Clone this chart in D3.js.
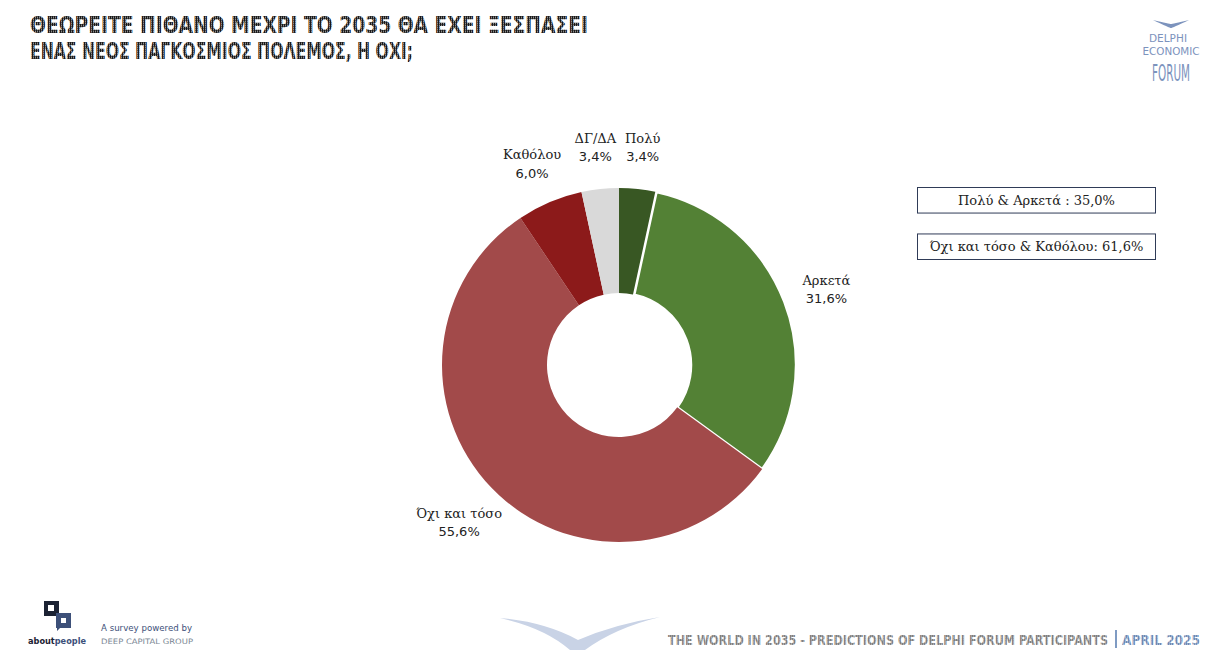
<!DOCTYPE html>
<html>
<head>
<meta charset="utf-8">
<script src="https://cdn.jsdelivr.net/npm/d3@7"></script>
<style>
  html, body { margin: 0; padding: 0; background: #fff; }
  svg { display: block; }
</style>
</head>
<body>
<svg id="chart" width="1222" height="652"></svg>
<script>
// ---- data ----
const categories = ["Πολύ", "Αρκετά", "Όχι και τόσο", "Καθόλου", "ΔΓ/ΔΑ"];
const values = [3.4, 31.6, 55.6, 6.0, 3.4];
const colors = ["#385723", "#538135", "#A24A4A", "#8C1A1A", "#D9D9D9"];
const titleLines = ["ΘΕΩΡΕΙΤΕ ΠΙΘΑΝΟ ΜΕΧΡΙ ΤΟ 2035 ΘΑ ΕΧΕΙ ΞΕΣΠΑΣΕΙ", "ΕΝΑΣ ΝΕΟΣ ΠΑΓΚΟΣΜΙΟΣ ΠΟΛΕΜΟΣ, Η ΟΧΙ;"];
const summaryGroups = [
  { label: "Πολύ & Αρκετά : ", members: ["Πολύ", "Αρκετά"] },
  { label: "Όχι και τόσο & Καθόλου: ", members: ["Όχι και τόσο", "Καθόλου"] }
];
const footerText = "THE WORLD IN 2035 - PREDICTIONS OF DELPHI FORUM PARTICIPANTS";
const footerDate = "APRIL 2025";

const fmt = v => d3.format(".1f")(v).replace(".", ",") + "%";

const svg = d3.select("#chart");
const defs = svg.append("defs");

// dotted "pixel" fill for title/footer
function stripe(id, bg, fg) {
  const p = defs.append("pattern").attr("id", id).attr("width", 2).attr("height", 2)
    .attr("patternUnits", "userSpaceOnUse");
  p.append("rect").attr("width", 2).attr("height", 2).attr("fill", bg);
  p.append("rect").attr("width", 1).attr("height", 2).attr("fill", fg);
  p.append("rect").attr("width", 2).attr("height", 1).attr("fill", fg).attr("opacity", 0.5);
}
stripe("dots", "#8d8d8d", "#1a1a1a");
stripe("dotsGray", "#b8b8b8", "#7a7a7a");
stripe("dotsBlue", "#a8bad5", "#6d89b3");

// ---- title ----
const titleG = svg.append("g");
const titleLen = [558, 383];
titleLines.forEach((t, i) => {
  titleG.append("text")
    .attr("x", 30).attr("y", 33 + i * 26)
    .attr("font-family", "DejaVu Sans Condensed, DejaVu Sans")
    .attr("font-weight", "bold")
    .attr("font-size", 23)
    .attr("textLength", titleLen[i])
    .attr("lengthAdjust", "spacingAndGlyphs")
    .attr("fill", "url(#dots)")
    .text(t);
});

// ---- donut ----
const cx = 619, cy = 365, outerR = 177, innerR = 72;
const data = categories.map((c, i) => ({ cat: c, value: values[i], color: colors[i] }));
const pie = d3.pie().value(d => d.value).sort(null);
const arcs = pie(data);
const arc = d3.arc().innerRadius(innerR).outerRadius(outerR);
const labelArc = d3.arc().innerRadius(222).outerRadius(222);

const g = svg.append("g").attr("transform", `translate(${cx},${cy})`);
g.selectAll("path.slice").data(arcs).enter().append("path")
  .attr("class", "slice")
  .attr("d", arc)
  .attr("fill", d => d.data.color)
  .attr("stroke", d => d.data.cat === "Αρκετά" ? "#fff" : "none")
  .attr("stroke-width", 2.5);

const lab = g.selectAll("text.lbl").data(arcs).enter().append("text")
  .attr("class", "lbl")
  .attr("transform", d => {
    const [x, y] = labelArc.centroid(d);
    return `translate(${x},${y})`;
  })
  .attr("text-anchor", "middle")
  .attr("font-family", "DejaVu Serif")
  .attr("font-size", 13)
  .attr("fill", "#222");
lab.append("tspan").attr("x", 0).attr("dy", "-0.1em").text(d => d.data.cat);
lab.append("tspan").attr("x", 0).attr("dy", "1.4em").attr("font-family", "DejaVu Sans").text(d => fmt(d.data.value));

// ---- summary boxes ----
const boxG = svg.append("g");
const boxY = d3.scaleBand().domain(summaryGroups.map((d, i) => i)).range([187, 259]).paddingInner(0.45);
summaryGroups.forEach((sg, i) => {
  const total = d3.sum(sg.members, m => values[categories.indexOf(m)]);
  const y = boxY(i), h = boxY.bandwidth();
  boxG.append("rect").attr("x", 917.5).attr("y", y + 0.5).attr("width", 238).attr("height", h)
    .attr("fill", "#fff").attr("stroke", "#2F3B57").attr("stroke-width", 1);
  boxG.append("text").attr("x", 917.5 + 119).attr("y", y + h / 2 + 5)
    .attr("text-anchor", "middle")
    .attr("font-family", "DejaVu Serif").attr("font-size", 13).attr("fill", "#222")
    .text(sg.label + fmt(total));
});

// ---- top-right logo ----
const logo = svg.append("g").attr("fill", "#7C93BD");
logo.append("path").attr("d", "M1153,20 Q1170,28 1171,28 Q1172,28 1189,20 Q1172,24 1171,24 Q1170,24 1153,20 Z");
logo.append("text").attr("x", 1168).attr("y", 42).attr("text-anchor", "middle")
  .attr("font-family", "DejaVu Sans Condensed, DejaVu Sans").attr("font-size", 10.5)
  .attr("textLength", 38).attr("lengthAdjust", "spacingAndGlyphs").text("DELPHI");
logo.append("text").attr("x", 1171).attr("y", 55).attr("text-anchor", "middle")
  .attr("font-family", "DejaVu Sans Condensed, DejaVu Sans").attr("font-size", 10.5)
  .attr("textLength", 57).attr("lengthAdjust", "spacingAndGlyphs").text("ECONOMIC");
logo.append("text").attr("x", 1171).attr("y", 0).attr("text-anchor", "middle")
  .attr("transform", "translate(0,81) scale(1,1.9)")
  .attr("font-family", "DejaVu Sans Condensed, DejaVu Sans").attr("font-size", 12.5)
  .attr("textLength", 38).attr("lengthAdjust", "spacingAndGlyphs").text("FORUM");

// ---- bottom-left logo ----
const bl = svg.append("g");
bl.append("rect").attr("x", 44).attr("y", 601).attr("width", 15).attr("height", 15).attr("fill", "#1b2233");
bl.append("rect").attr("x", 48).attr("y", 605).attr("width", 6).attr("height", 6).attr("fill", "#fff");
bl.append("path").attr("d", "M56,613 L71,613 L71,628 L60,628 L57,631 L57,628 L56,628 Z").attr("fill", "#3d5079");
bl.append("rect").attr("x", 61).attr("y", 618).attr("width", 5).attr("height", 5).attr("fill", "#fff");
bl.append("text").attr("x", 28).attr("y", 644).attr("font-family", "DejaVu Sans").attr("font-size", 8.5)
  .attr("font-weight", "bold").attr("fill", "#1b2233")
  .attr("textLength", 58).attr("lengthAdjust", "spacingAndGlyphs")
  .call(t => { t.append("tspan").text("about"); t.append("tspan").attr("fill", "#3d5079").text("people"); });
bl.append("text").attr("x", 101).attr("y", 631).attr("font-family", "DejaVu Sans").attr("font-size", 9)
  .attr("fill", "#3d5079").attr("textLength", 91).attr("lengthAdjust", "spacingAndGlyphs").text("A survey powered by");
bl.append("text").attr("x", 101).attr("y", 644).attr("font-family", "DejaVu Sans").attr("font-size", 7.5)
  .attr("fill", "#7b8794").attr("textLength", 92).attr("lengthAdjust", "spacingAndGlyphs").text("DEEP CAPITAL GROUP");

// ---- bottom swoosh + footer ----
svg.append("path")
  .attr("d", "M500,618 Q545,628 570,650 L585,650 Q615,628 660,617 Q615,624 578,640 Q545,622 500,618 Z")
  .attr("fill", "#C9D3E6");
svg.append("text").attr("x", 668).attr("y", 0)
  .attr("transform", "translate(0,645) scale(1,1.2)")
  .attr("font-family", "DejaVu Sans Condensed, DejaVu Sans").attr("font-weight", "bold").attr("font-size", 11.5)
  .attr("textLength", 440).attr("lengthAdjust", "spacingAndGlyphs")
  .attr("fill", "url(#dotsGray)").text(footerText);
svg.append("rect").attr("x", 1115).attr("y", 630).attr("width", 2).attr("height", 18).attr("fill", "#7f9bc3");
svg.append("text").attr("x", 1122).attr("y", 0)
  .attr("transform", "translate(0,645) scale(1,1.2)")
  .attr("font-family", "DejaVu Sans Condensed, DejaVu Sans").attr("font-weight", "bold").attr("font-size", 11.5)
  .attr("textLength", 78).attr("lengthAdjust", "spacingAndGlyphs")
  .attr("fill", "url(#dotsBlue)").text(footerDate);
</script>
</body>
</html>
